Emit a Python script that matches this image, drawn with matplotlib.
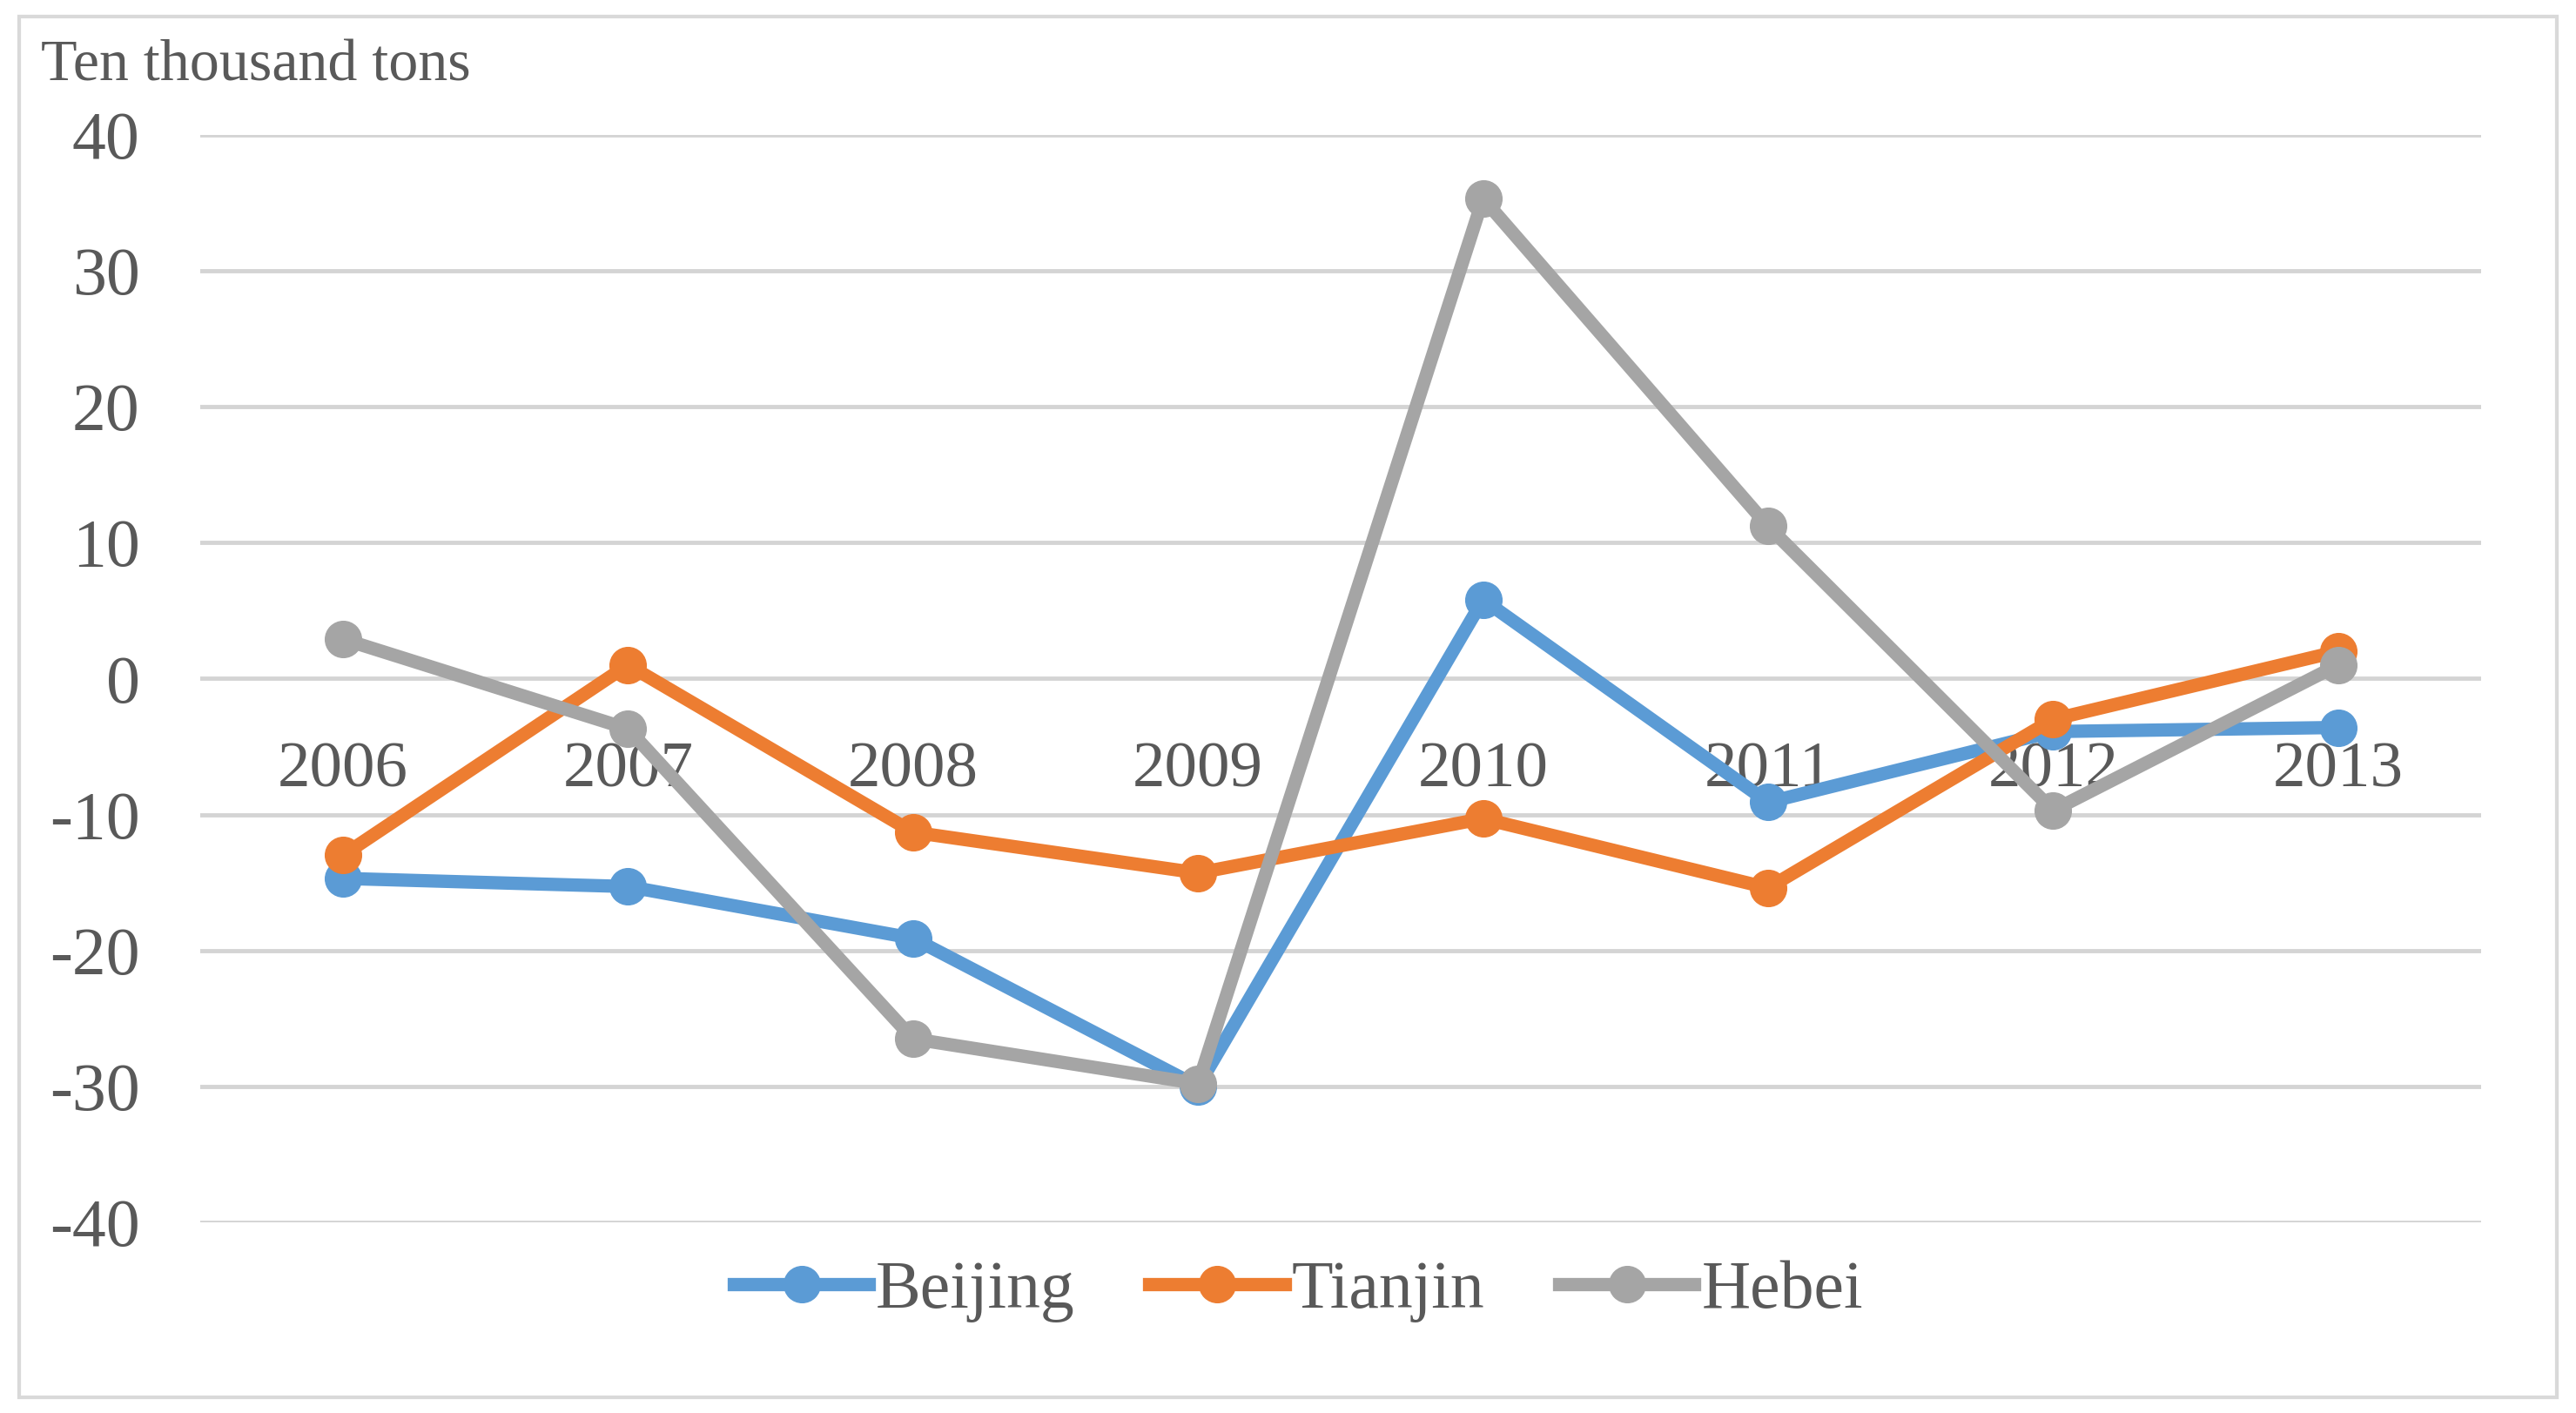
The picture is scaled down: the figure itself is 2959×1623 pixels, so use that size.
import matplotlib
matplotlib.use("Agg")
import matplotlib.pyplot as plt
from matplotlib.patches import Rectangle

# values (ten thousand tons)
years = ["2006", "2007", "2008", "2009", "2010", "2011", "2012", "2013"]
beijing = [-14.7, -15.3, -19.1, -30.0, 5.8, -9.1, -3.9, -3.6]
tianjin = [-13.0, 1.0, -11.3, -14.3, -10.3, -15.4, -3.0, 2.0]
hebei = [2.9, -3.7, -26.5, -29.8, 35.3, 11.2, -9.7, 1.0]

series_names = ["Beijing", "Tianjin", "Hebei"]
colors = ["#5B9BD5", "#ED7D31", "#A5A5A5"]
y_ticks = [40, 30, 20, 10, 0, -10, -20, -30, -40]

text_color = "#595959"
plt.rcParams["font.family"] = ["Liberation Serif", "DejaVu Serif"]

fig = plt.figure(figsize=(29.59, 16.23), dpi=100)
ax = fig.add_axes([0.0778, 0.1349, 0.8852, 0.7698])

# outer chart border
fig.patches.append(Rectangle((0.0075, 0.011), 0.985, 0.977, transform=fig.transFigure,
                             fill=False, edgecolor="#D9D9D9", linewidth=3))

x = list(range(len(years)))
for name, vals, c in zip(series_names, [beijing, tianjin, hebei], colors):
    ax.plot(x, vals, color=c, linewidth=11, marker="o", markersize=30,
            label=name, zorder=3, solid_joinstyle="round")

ax.set_xlim(-0.5, len(years) - 0.5)
ax.set_ylim(-40, 40)
ax.set_yticks(y_ticks)
ax.set_yticklabels([str(v) for v in y_ticks])
ax.tick_params(axis="y", length=0, pad=50, labelsize=56, labelcolor=text_color)
ax.set_xticks([])
ax.grid(axis="y", color="#D4D4D4", linewidth=3.5, zorder=0)
for s in ax.spines.values():
    s.set_visible(False)

# category labels sit just under the zero line
for xi, lab in zip(x, years):
    ax.text(xi, -6.8, lab, ha="center", va="center", fontsize=54,
            color=text_color, zorder=2)

fig.text(0.016, 0.953, "Ten thousand tons", ha="left", va="center",
         fontsize=49, color=text_color)

leg = ax.legend(loc="center", bbox_to_anchor=(0.504, 0.086),
                bbox_transform=fig.transFigure, ncol=3, frameon=False,
                fontsize=56, handlelength=2.0, handletextpad=0.1,
                columnspacing=1.1, markerscale=1.0)
for t in leg.get_texts():
    t.set_color(text_color)

fig.savefig("out.png", dpi=100, facecolor="white")
